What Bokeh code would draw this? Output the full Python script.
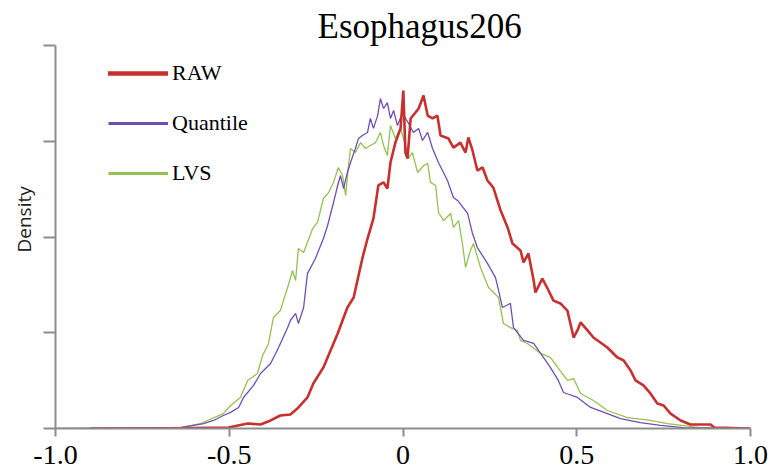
import math
from bokeh.plotting import figure
from bokeh.models import Legend, LegendItem, Title, FixedTicker, Range1d
from bokeh.embed import file_html
from bokeh.resources import INLINE

raw_x = [-0.899, -0.727, -0.502, -0.447, -0.410, -0.381, -0.353, -0.324, -0.304, -0.275,
         -0.258, -0.229, -0.188, -0.160, -0.142, -0.117, -0.102, -0.085, -0.071, -0.056,
         -0.045, -0.036, -0.022, -0.007, 0.001, 0.007, 0.013, 0.022, 0.036, 0.045,
         0.059, 0.071, 0.085, 0.099, 0.108, 0.131, 0.145, 0.165, 0.180, 0.188,
         0.200, 0.214, 0.229, 0.243, 0.260, 0.281, 0.301, 0.315, 0.338, 0.347,
         0.361, 0.376, 0.381, 0.401, 0.416, 0.433, 0.453, 0.473, 0.491, 0.502,
         0.511, 0.531, 0.548, 0.588, 0.617, 0.635, 0.655, 0.669, 0.692, 0.712,
         0.732, 0.750, 0.770, 0.799, 0.827, 0.885, 0.896, 1.000]
raw_y = [0.000, 0.000, 0.005, 0.026, 0.021, 0.042, 0.068, 0.073, 0.104, 0.162,
         0.235, 0.319, 0.496, 0.632, 0.684, 0.888, 0.992, 1.097, 1.269, 1.285,
         1.253, 1.389, 1.493, 1.567, 1.765, 1.441, 1.410, 1.619, 1.650, 1.671,
         1.739, 1.634, 1.619, 1.634, 1.530, 1.514, 1.467, 1.493, 1.441, 1.520,
         1.452, 1.347, 1.363, 1.295, 1.258, 1.138, 1.050, 0.966, 0.930, 0.867,
         0.914, 0.773, 0.710, 0.783, 0.731, 0.668, 0.653, 0.616, 0.475, 0.512,
         0.554, 0.512, 0.475, 0.423, 0.371, 0.355, 0.303, 0.251, 0.225, 0.183,
         0.131, 0.120, 0.078, 0.042, 0.021, 0.021, 0.005, 0.000]

quant_x = [-1.000, -0.640, -0.574, -0.545, -0.517, -0.496, -0.473, -0.459, -0.430, -0.410,
           -0.381, -0.358, -0.332, -0.324, -0.309, -0.301, -0.286, -0.275, -0.252, -0.229,
           -0.217, -0.200, -0.188, -0.180, -0.171, -0.160, -0.151, -0.137, -0.128, -0.117,
           -0.102, -0.094, -0.085, -0.073, -0.065, -0.056, -0.045, -0.036, -0.027, -0.016,
           -0.001, 0.007, 0.016, 0.030, 0.045, 0.056, 0.071, 0.085, 0.102, 0.128,
           0.145, 0.157, 0.186, 0.200, 0.214, 0.243, 0.266, 0.275, 0.286, 0.309,
           0.318, 0.347, 0.376, 0.396, 0.424, 0.447, 0.462, 0.502, 0.540, 0.588,
           0.626, 0.683, 0.741, 0.807, 1.000]
quant_y = [0.000, 0.005, 0.026, 0.042, 0.068, 0.084, 0.110, 0.162, 0.225, 0.287,
           0.339, 0.423, 0.527, 0.564, 0.601, 0.548, 0.632, 0.809, 0.888, 0.992,
           1.060, 1.180, 1.269, 1.321, 1.253, 1.337, 1.389, 1.462, 1.514, 1.530,
           1.546, 1.619, 1.567, 1.634, 1.723, 1.671, 1.702, 1.619, 1.661, 1.582,
           1.650, 1.619, 1.593, 1.546, 1.567, 1.504, 1.546, 1.462, 1.389, 1.295,
           1.206, 1.191, 1.123, 1.018, 0.945, 0.862, 0.789, 0.721, 0.632, 0.653,
           0.527, 0.460, 0.444, 0.392, 0.319, 0.251, 0.188, 0.162, 0.110, 0.078,
           0.052, 0.031, 0.016, 0.005, 0.000]

lvs_x = [-0.899, -0.640, -0.583, -0.517, -0.496, -0.468, -0.447, -0.419, -0.404, -0.387,
         -0.373, -0.353, -0.332, -0.318, -0.309, -0.301, -0.286, -0.260, -0.246, -0.229,
         -0.214, -0.200, -0.186, -0.174, -0.165, -0.157, -0.151, -0.137, -0.122, -0.108,
         -0.094, -0.079, -0.065, -0.056, -0.045, -0.036, -0.022, -0.007, 0.007, 0.016,
         0.027, 0.042, 0.059, 0.071, 0.079, 0.094, 0.102, 0.117, 0.137, 0.145,
         0.160, 0.171, 0.180, 0.194, 0.203, 0.223, 0.246, 0.275, 0.289, 0.309,
         0.329, 0.338, 0.358, 0.396, 0.424, 0.445, 0.473, 0.491, 0.511, 0.548,
         0.588, 0.646, 0.712, 0.761, 0.856, 1.000]
lvs_y = [0.000, 0.005, 0.026, 0.078, 0.120, 0.162, 0.251, 0.287, 0.381, 0.444,
         0.580, 0.616, 0.736, 0.825, 0.773, 0.940, 0.919, 1.044, 1.076, 1.201,
         1.232, 1.285, 1.363, 1.321, 1.217, 1.373, 1.462, 1.441, 1.493, 1.462,
         1.478, 1.493, 1.546, 1.478, 1.426, 1.582, 1.514, 1.567, 1.478, 1.410,
         1.441, 1.337, 1.373, 1.384, 1.285, 1.269, 1.128, 1.086, 1.123, 1.050,
         1.086, 0.966, 0.841, 0.930, 0.966, 0.841, 0.736, 0.684, 0.548, 0.527,
         0.512, 0.460, 0.444, 0.392, 0.371, 0.319, 0.251, 0.261, 0.183, 0.146,
         0.094, 0.057, 0.042, 0.026, 0.005, 0.000]

x_ticks = [-1.0, -0.5, 0.0, 0.5, 1.0]
x_tick_labels = ["-1.0", "-0.5", "0", "0.5", "1.0"]
y_ticks = [0.0, 0.5, 1.0, 1.5, 2.0]
series_names = ["RAW", "Quantile", "LVS"]
title_text = "Esophagus206"
y_label_text = "Density"

RED = "#c8302e"
PURPLE = "#6f4fb5"
GREEN = "#94c251"
AXIS = "#8c8c8c"
SERIF = "Liberation Serif"
NAN = float("nan")

p = figure(width=772, height=468, output_backend="svg", toolbar_location=None,
           x_range=Range1d(-1.0, 1.0), y_range=Range1d(0.0, 2.0),
           min_border_left=55, min_border_right=22, min_border_top=45, min_border_bottom=40)
p.outline_line_color = None
p.grid.visible = False
p.background_fill_color = "white"
p.border_fill_color = "white"

r_lvs = p.line(lvs_x, lvs_y, line_color=GREEN, line_width=1.3)
r_quant = p.line(quant_x, quant_y, line_color=PURPLE, line_width=1.3)
r_raw = p.line(raw_x, raw_y, line_color=RED, line_width=2.6)

# legend swatches (no visible data, legend only)
l_raw = p.line([NAN], [NAN], line_color=RED, line_width=4.5, line_cap="round")
l_quant = p.line([NAN], [NAN], line_color=PURPLE, line_width=3)
l_lvs = p.line([NAN], [NAN], line_color=GREEN, line_width=3)

legend = Legend(items=[LegendItem(label=series_names[0], renderers=[l_raw]),
                       LegendItem(label=series_names[1], renderers=[l_quant]),
                       LegendItem(label=series_names[2], renderers=[l_lvs])],
                location=(53, 242), glyph_width=60, glyph_height=24, label_height=24,
                spacing=24, padding=0, margin=0, label_standoff=4,
                border_line_color=None, background_fill_alpha=0,
                label_text_font=SERIF, label_text_font_size="22px", label_text_color="black")
p.add_layout(legend)

xa = p.xaxis[0]
xa.ticker = FixedTicker(ticks=x_ticks)
xa.major_label_overrides = {t: s for t, s in zip(x_ticks, x_tick_labels)}
xa.minor_tick_line_color = None
xa.major_tick_in = 0
xa.major_tick_out = 8
xa.axis_line_color = AXIS
xa.axis_line_width = 2
xa.major_tick_line_color = AXIS
xa.major_tick_line_width = 2
xa.major_label_standoff = 9
xa.major_label_text_font = SERIF
xa.major_label_text_font_size = "28px"
xa.major_label_text_color = "black"

ya = p.yaxis[0]
ya.ticker = FixedTicker(ticks=y_ticks)
ya.major_label_overrides = {t: "" for t in y_ticks}
ya.major_label_text_font_size = "10px"
ya.major_label_standoff = 0
ya.minor_tick_line_color = None
ya.major_tick_in = 0
ya.major_tick_out = 12
ya.axis_line_color = AXIS
ya.axis_line_width = 2
ya.major_tick_line_color = AXIS
ya.major_tick_line_width = 2

p.add_layout(Title(text=title_text, text_font=SERIF, text_font_size="35px",
                   text_font_style="normal", text_color="black",
                   align="left", offset=262, standoff=0), "above")
p.add_layout(Title(text=y_label_text, text_font="Open Sans", text_font_size="19px",
                   text_font_style="normal", text_color="#222222",
                   align="left", offset=176, standoff=14), "left")

open("out.html", "w").write(file_html(p, INLINE))
